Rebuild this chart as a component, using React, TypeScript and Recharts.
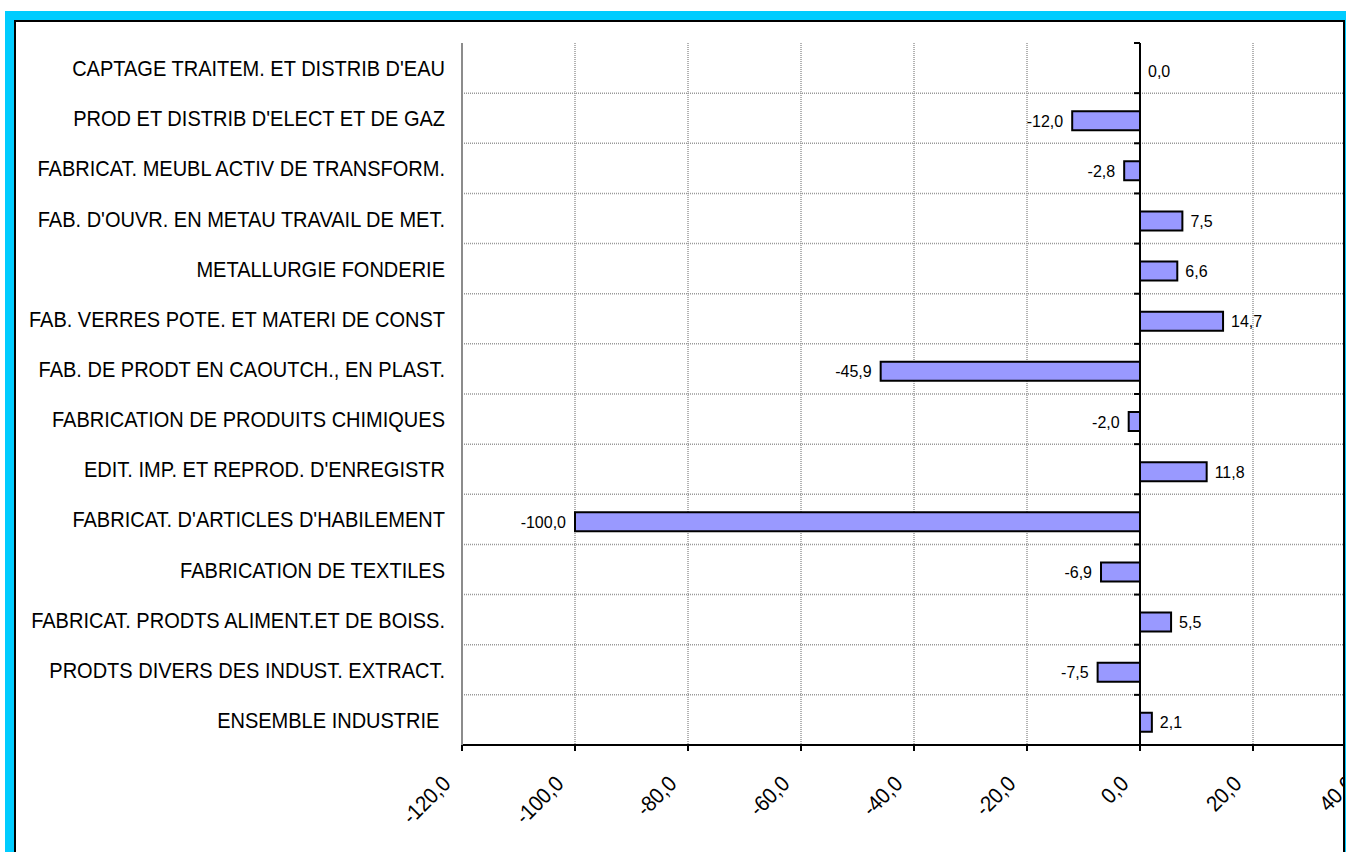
import React from 'react';
import { BarChart, Bar, XAxis, YAxis, CartesianGrid, ReferenceLine, LabelList, Rectangle } from 'recharts';

// categories, top to bottom
const categories = [
  "CAPTAGE TRAITEM. ET DISTRIB D'EAU",
  "PROD ET DISTRIB D'ELECT ET DE GAZ",
  "FABRICAT. MEUBL ACTIV DE TRANSFORM.",
  "FAB. D'OUVR. EN METAU TRAVAIL DE MET.",
  "METALLURGIE FONDERIE",
  "FAB. VERRES POTE. ET MATERI DE CONST",
  "FAB. DE PRODT EN CAOUTCH., EN PLAST.",
  "FABRICATION DE PRODUITS CHIMIQUES",
  "EDIT. IMP. ET REPROD. D'ENREGISTR",
  "FABRICAT. D'ARTICLES D'HABILEMENT",
  "FABRICATION DE TEXTILES",
  "FABRICAT. PRODTS ALIMENT.ET DE BOISS.",
  "PRODTS DIVERS DES INDUST. EXTRACT.",
  "ENSEMBLE INDUSTRIE ",
];

const values = [0.0, -12.0, -2.8, 7.5, 6.6, 14.7, -45.9, -2.0, 11.8, -100.0, -6.9, 5.5, -7.5, 2.1];

const xTicks = [-120, -100, -80, -60, -40, -20, 0, 20, 40];

const FONT = '"Liberation Sans", Arial, Helvetica, sans-serif';
const fmt = (v: number) => v.toFixed(1).replace('.', ',');

const chartData = categories.map((name, i) => ({ name, value: values[i], label: fmt(values[i]) }));

// the original text is tall but narrow, so squeeze it a bit horizontally
const CategoryTick = (props: any) => {
  const { x, y, payload } = props;
  return (
    <text
      transform={`translate(${x}, ${y}) scale(0.91, 1)`}
      dy={8}
      textAnchor="end"
      fontSize={22}
      fontFamily={FONT}
      fill="#000"
      style={{ whiteSpace: 'pre' }}
    >
      {payload.value}
    </text>
  );
};

const ValueTick = (props: any) => {
  const { x, y, payload } = props;
  const ax = x - 10;
  const ay = y + 32;
  return (
    <text
      transform={`translate(${ax}, ${ay}) rotate(-45) scale(0.92, 1)`}
      textAnchor="end"
      fontSize={22}
      fontFamily={FONT}
      fill="#000"
    >
      {fmt(payload.value)}
    </text>
  );
};

const BarValueLabel = (props: any) => {
  const vb = props.viewBox ?? props;
  const x = vb.x ?? props.x;
  const y = vb.y ?? props.y;
  const width = vb.width ?? props.width ?? 0;
  const height = vb.height ?? props.height ?? 0;
  const text = String(props.value);
  const neg = text.startsWith('-');
  const left = Math.min(x, x + width);
  const right = Math.max(x, x + width);
  return (
    <text
      x={neg ? left - 9 : right + 8}
      y={y + height / 2 + 2}
      dy={6}
      textAnchor={neg ? 'end' : 'start'}
      fontSize={16}
      fontFamily={FONT}
      fill="#000"
    >
      {text}
    </text>
  );
};

// bars sit a touch below the band centre, as in the original
const BarShape = (props: any) => <Rectangle {...props} y={props.y + 2} />;

// zero line with the little ticks at each category boundary
const ZeroAxis = (props: any) => {
  const { x1, y1, x2, y2 } = props;
  const n = categories.length;
  const top = Math.min(y1, y2);
  const h = Math.abs(y2 - y1);
  return (
    <g>
      <line x1={x1} y1={y1} x2={x2} y2={y2} stroke="#000" strokeWidth={2} />
      {Array.from({ length: n + 1 }, (_, i) => (
        <line key={i} x1={x1 - 6} x2={x1} y1={top + (i * h) / n} y2={top + (i * h) / n} stroke="#000" strokeWidth={2} />
      ))}
    </g>
  );
};

const bandLines = ({ offset }: any) => {
  const n = categories.length;
  return Array.from({ length: n - 1 }, (_, i) => offset.top + ((i + 1) * offset.height) / n);
};

export default function App() {
  return (
    <div style={{ position: 'absolute', left: 0, top: 0, width: 1346, height: 852, overflow: 'hidden', background: '#fff' }}>
      <div style={{ position: 'absolute', left: 5, top: 11, width: 1400, height: 900, background: '#00CCFF' }} />
      <div
        style={{
          position: 'absolute',
          left: 14,
          top: 20,
          width: 1327,
          height: 900,
          border: '2px solid #000',
          background: '#fff',
          overflow: 'hidden',
        }}
      >
        <BarChart
          layout="vertical"
          width={1360}
          height={830}
          data={chartData}
          margin={{ top: 21, right: 10, bottom: 17, left: 0 }}
          barSize={19}
        >
          <CartesianGrid horizontal={false} stroke="#666" strokeDasharray="1 1" />
          <CartesianGrid vertical={false} horizontalCoordinatesGenerator={bandLines} stroke="#999" strokeWidth={1.5} strokeDasharray="1 1" />
          <XAxis
            type="number"
            domain={[-120, 40]}
            ticks={xTicks}
            interval={0}
            height={90}
            tick={<ValueTick />}
            tickSize={6}
            tickMargin={2}
            axisLine={{ stroke: '#000', strokeWidth: 2 }}
            tickLine={{ stroke: '#000', strokeWidth: 2 }}
          />
          <XAxis
            xAxisId="top"
            orientation="top"
            type="number"
            domain={[-120, 40]}
            height={0}
            tick={false}
            tickLine={false}
            axisLine={{ stroke: '#8c8c8c', strokeWidth: 2 }}
          />
          <YAxis
            type="category"
            dataKey="name"
            width={446}
            interval={0}
            tick={<CategoryTick />}
            tickLine={false}
            tickSize={6}
            tickMargin={11}
            axisLine={{ stroke: '#8c8c8c', strokeWidth: 2 }}
          />
          <Bar dataKey="value" fill="#9999FF" stroke="#000" strokeWidth={2} shape={BarShape} isAnimationActive={false}>
            <LabelList dataKey="label" content={BarValueLabel} />
          </Bar>
          <ReferenceLine x={0} shape={ZeroAxis} />
        </BarChart>
      </div>
    </div>
  );
}
